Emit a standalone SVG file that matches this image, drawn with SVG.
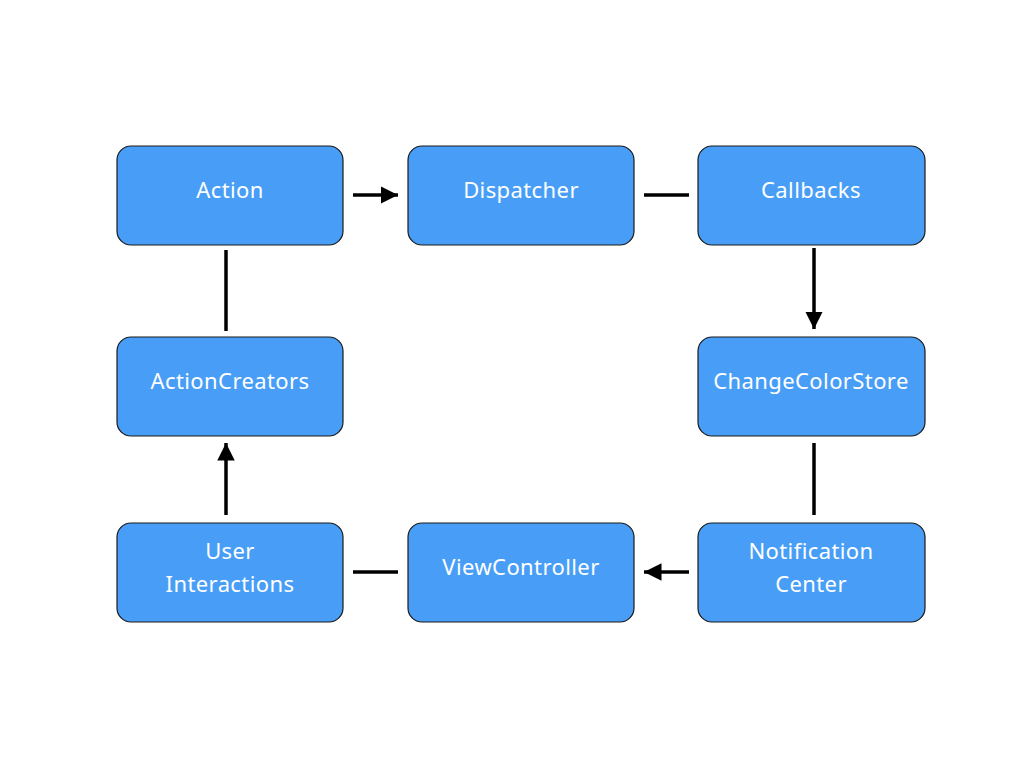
<svg xmlns="http://www.w3.org/2000/svg" width="1024" height="768" viewBox="0 0 1024 768">
<defs>
<style>
.box{fill:#489EF7;stroke:#1a1a1a;stroke-width:1.2}
.lbl{font-family:"Noto Sans","Liberation Sans",sans-serif;font-size:22px;fill:#fff;text-anchor:middle;letter-spacing:0.4px}
.ln{stroke:#000;stroke-width:3.5;fill:none}
</style>
<marker id="ah" viewBox="0 0 10 10" refX="10" refY="5" markerWidth="5" markerHeight="5" markerUnits="strokeWidth" orient="auto">
<path d="M0,0 L10,5 L0,10 Z" fill="#000"/>
</marker>
</defs>
<rect width="1024" height="768" fill="#fff"/>
<g id="action"><rect class="box" x="117" y="146" width="226" height="99" rx="14"/><text class="lbl" x="230" y="198">Action</text></g>
<g id="dispatcher"><rect class="box" x="408" y="146" width="226" height="99" rx="14"/><text class="lbl" x="521" y="198">Dispatcher</text></g>
<g id="callbacks"><rect class="box" x="698" y="146" width="227" height="99" rx="14"/><text class="lbl" x="811" y="198">Callbacks</text></g>
<g id="actioncreators"><rect class="box" x="117" y="337" width="226" height="99" rx="14"/><text class="lbl" x="230" y="389">ActionCreators</text></g>
<g id="changecolorstore"><rect class="box" x="698" y="337" width="227" height="99" rx="14"/><text class="lbl" x="811" y="389">ChangeColorStore</text></g>
<g id="userinteractions"><rect class="box" x="117" y="523" width="226" height="99" rx="14"/><text class="lbl" x="230" y="559">User</text><text class="lbl" x="230" y="592">Interactions</text></g>
<g id="viewcontroller"><rect class="box" x="408" y="523" width="226" height="99" rx="14"/><text class="lbl" x="521" y="575">ViewController</text></g>
<g id="notificationcenter"><rect class="box" x="698" y="523" width="227" height="99" rx="14"/><text class="lbl" x="811" y="559">Notification</text><text class="lbl" x="811" y="592">Center</text></g>
<g id="connectors">
<line class="ln" x1="353" y1="195" x2="398" y2="195" marker-end="url(#ah)"/>
<line class="ln" x1="644" y1="195" x2="689" y2="195"/>
<line class="ln" x1="814" y1="248" x2="814" y2="329" marker-end="url(#ah)"/>
<line class="ln" x1="814" y1="443" x2="814" y2="515"/>
<line class="ln" x1="689" y1="572" x2="644" y2="572" marker-end="url(#ah)"/>
<line class="ln" x1="398" y1="572" x2="353" y2="572"/>
<line class="ln" x1="226" y1="515" x2="226" y2="443" marker-end="url(#ah)"/>
<line class="ln" x1="226" y1="331" x2="226" y2="250"/>
</g>
</svg>
